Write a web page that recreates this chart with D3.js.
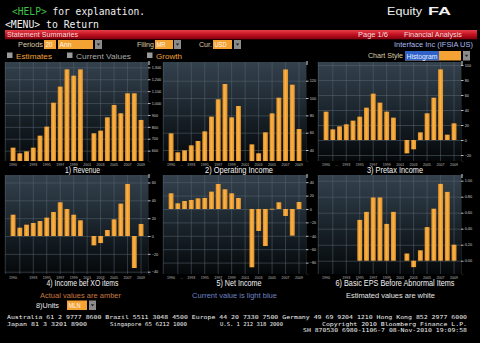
<!DOCTYPE html>
<html>
<head>
<meta charset="utf-8">
<script src="https://cdn.jsdelivr.net/npm/d3@7"></script>
<style>
  html, body { margin: 0; padding: 0; background: #000; overflow: hidden; }
  svg { display: block; }
  text { font-family: "Liberation Sans", Arial, sans-serif; }
  .mono { font-family: "DejaVu Sans Mono", "Liberation Mono", monospace; }
</style>
</head>
<body>
<svg id="chart" width="480" height="343"></svg>
<script>
// Fiscal years (20 annual periods)
const years = ["1990","1991","1992","1993","1994","1995","1996","1997","1998","1999",
               "2000","2001","2002","2003","2004","2005","2006","2007","2008","2009"];

// Series values (USD millions, EPS in USD); null = not reported
const revenue         = [625, 578, 594, 625, 726, 802, 1003, 1138, 1283, 1230, 1283, null, 746, 768, 880, 984, 914, 1082, 1082, 858];
const operatingIncome = [59.2, 37.3, 39.6, 45.4, 50.4, 61.5, 78.5, 98.5, 116.2, 77.7, 90.8, null, 46.5, 36.2, 60.4, 82.3, 100.4, 133, 115.4, 64.2];
const pretaxIncome    = [37.8, 14.2, 18.2, 20.9, 25.8, 31.1, 43.1, 61.8, 49.8, 37.8, 29.8, null, -17.8, -12.4, 10.2, 35.6, 56.4, 94.2, 7.1, 22.2];
const incomeBefXO     = [23.9, 9.3, 12.7, 14.6, 16.8, 20.6, 26.9, 37.8, 30.3, 23.9, 17.6, null, -10.5, -7.9, 6.7, 18.7, 36.3, 58.3, -35.9, 13.5];
const netIncome       = [23.4, 8.5, 11.9, 13.4, 15.9, 16.4, 25.9, 37.3, 29.4, 23.4, 16.4, null, -87, -32.8, -55.2, 0.3, 10, -10.4, -39.8, 10.4];
const basicEPS        = [null, null, null, null, null, 0.51, 0.61, 0.79, 0.79, 0.46, 0.61, null, 0.09, -0.08, 0.13, 0.42, 0.65, 0.96, 0.86, 0.20];

// Axis tick values
const revenueTicks = [600, 700, 800, 900, 1000, 1100, 1200, 1300];
const operatingTicks = [40, 60, 80, 100, 120];
const pretaxTicks = [-20, 0, 20, 40, 60, 80, 100];
const incomeXOTicks = [-40, -20, 0, 20, 40, 60];
const netTicks = [-80, -60, -40, -20, 0, 20, 40];
const epsTicks = [0, 0.2, 0.4, 0.6, 0.8, 1.0];

// Year labels under each panel and the years carrying vertical grid lines
const yearLabels = ["1990","1993","1995","1997","1999","2001","2003","2005","2007","2009"];
const gridYears = ["1991","1993","1995","1997","1999","2001","2003","2005","2007","2009"];

const titles = ["1) Revenue", "2) Operating Income", "3) Pretax Income",
                "4) Income bef XO items", "5) Net Income", "6) Basic EPS Before Abnormal Items"];

const svg = d3.select("#chart");
const defs = svg.append("defs");

// Panel backdrop: slate at top fading to black
const pg = defs.append("linearGradient").attr("id", "panelBg").attr("x1", 0).attr("y1", 0).attr("x2", 0).attr("y2", 1);
pg.append("stop").attr("offset", "0%").attr("stop-color", "#34424e");
pg.append("stop").attr("offset", "55%").attr("stop-color", "#182128");
pg.append("stop").attr("offset", "100%").attr("stop-color", "#05080a");

// Amber bar shading
const bg = defs.append("linearGradient").attr("id", "barFill").attr("x1", 0).attr("y1", 0).attr("x2", 1).attr("y2", 0);
bg.append("stop").attr("offset", "0%").attr("stop-color", "#d98a22");
bg.append("stop").attr("offset", "45%").attr("stop-color", "#fbb449");
bg.append("stop").attr("offset", "100%").attr("stop-color", "#e08f26");

// Red title strip
const rg = defs.append("linearGradient").attr("id", "redBar").attr("x1", 0).attr("y1", 0).attr("x2", 0).attr("y2", 1);
rg.append("stop").attr("offset", "0%").attr("stop-color", "#e8404a");
rg.append("stop").attr("offset", "50%").attr("stop-color", "#c01020");
rg.append("stop").attr("offset", "100%").attr("stop-color", "#80000c");

// Header
const help = svg.append("text").attr("class", "mono").attr("x", 12).attr("y", 14.5)
  .attr("font-size", 10.5).attr("textLength", 133).attr("lengthAdjust", "spacingAndGlyphs");
help.append("tspan").attr("fill", "#3fc24a").text("<HELP>");
help.append("tspan").attr("fill", "#f2f2f2").text(" for explanation.");
svg.append("text").attr("class", "mono").attr("x", 5).attr("y", 27.5).attr("font-size", 10.5)
  .attr("fill", "#f2f2f2").attr("textLength", 94).attr("lengthAdjust", "spacingAndGlyphs").text("<MENU> to Return");
svg.append("text").attr("x", 387).attr("y", 15).attr("font-size", 10.5).attr("fill", "#f0f0f0")
  .attr("textLength", 35).attr("lengthAdjust", "spacingAndGlyphs").text("Equity");
svg.append("text").attr("x", 428).attr("y", 15).attr("font-size", 11).attr("font-weight", "bold").attr("fill", "#f0f0f0")
  .attr("textLength", 23).attr("lengthAdjust", "spacingAndGlyphs").text("FA");

svg.append("rect").attr("x", 5).attr("y", 30).attr("width", 472).attr("height", 9.3).attr("fill", "url(#redBar)");
const smallText = (x, y, s, fill, len, size = 7, anchor = "start") => {
  const t = svg.append("text").attr("x", x).attr("y", y).attr("font-size", size).attr("fill", fill)
    .attr("text-anchor", anchor).text(s);
  if (len) t.attr("textLength", len).attr("lengthAdjust", "spacingAndGlyphs");
  return t;
};
smallText(7, 37.3, "Statement Summaries", "#f4dada", 71);
smallText(358, 37.3, "Page 1/6", "#f4dada", 30);
smallText(404, 37.3, "Financial Analysis", "#f4dada", 58);

// Control row
const tan = "#dccba4";
const box = (x, w, y, h, label, fill, txtFill, len) => {
  svg.append("rect").attr("x", x).attr("y", y).attr("width", w).attr("height", h).attr("fill", fill);
  if (label) smallText(x + 1.5, y + h - 1.8, label, txtFill, len, 7);
};
const dropdown = (x, y, h) => {
  svg.append("rect").attr("x", x).attr("y", y).attr("width", 7).attr("height", h).attr("fill", "#8c8c8c");
  svg.append("path").attr("d", `M${x + 1.8},${y + h / 2 - 1} h3.4 l-1.7,2.2 z`).attr("fill", "#222");
};
smallText(18, 46.8, "Periods", tan, 25);
box(44, 12, 40, 9, "20", "#f4a233", "#fff8ee", 7);
box(58, 35, 40, 9, "Ann", "#f4a233", "#fff8ee", 12);
dropdown(95, 40, 9);
smallText(137, 46.8, "Filing", tan, 17);
box(155, 18, 40, 9, "MR", "#f4a233", "#fff8ee", 9);
dropdown(174, 40, 9);
smallText(199, 46.8, "Cur.", tan, 13);
box(213, 19, 40, 9, "USD", "#f4a233", "#fff8ee", 12);
dropdown(234, 40, 9);
smallText(473, 47, "Interface Inc (IFSIA US)", "#a9b9ea", 79, 7, "end");

// Checkbox row
const check = (x, label, color, len, tx) => {
  svg.append("rect").attr("x", x).attr("y", 52.5).attr("width", 5.5).attr("height", 5.5).attr("fill", "#9a9a9a");
  smallText(tx, 58.8, label, color, len, 7.5);
};
check(7, "Estimates", "#eea23c", 36, 16);
check(67, "Current Values", "#a8a8a8", 55, 76);
check(147, "Growth", "#eea23c", 26, 156);
smallText(368, 58.3, "Chart Style", tan, 35);
svg.append("rect").attr("x", 405).attr("y", 51).attr("width", 56).attr("height", 9.5).attr("fill", "#f4a233");
svg.append("rect").attr("x", 405).attr("y", 51).attr("width", 34).attr("height", 9.5).attr("fill", "#2f62c8");
smallText(406.5, 58.6, "Histogram", "#e8eeff", 31, 7);
dropdown(463, 51, 9.5);

// Panels
const cols = [{ x0: 5, x1: 148, cx: 82.5 }, { x0: 163, x1: 306, cx: 239 }, { x0: 318, x1: 461, cx: 395 }];
const rows = [{ y0: 62, y1: 161 }, { y0: 175, y1: 274 }];

const panels = [
  { values: revenue, ticks: revenueTicks, domain: [513, 1345], fmt: d3.format(","), dots: true, titleLen: 35 },
  { values: operatingIncome, ticks: operatingTicks, domain: [27.3, 141.6], fmt: d3.format("d"), dots: true, titleLen: 68 },
  { values: pretaxIncome, ticks: pretaxTicks, domain: [-28, 104], fmt: d3.format("d"), dots: true, titleLen: 56 },
  { values: incomeBefXO, ticks: incomeXOTicks, domain: [-42.6, 68.4], fmt: d3.format("d"), dots: false, titleLen: 72 },
  { values: netIncome, ticks: netTicks, domain: [-97, 50.7], fmt: d3.format("d"), dots: true, titleLen: 45 },
  { values: basicEPS, ticks: epsTicks, domain: [-0.166, 1.071], fmt: d3.format(".2f"), dots: false, titleLen: 119 }
];

panels.forEach((p, i) => {
  const c = cols[i % 3], r = rows[Math.floor(i / 3)];
  const g = svg.append("g");
  const x = d3.scaleBand().domain(years).range([c.x0 + 4.6, c.x1 - 3.5]).paddingInner(0.27).paddingOuter(0.15);
  const y = d3.scaleLinear().domain(p.domain).range([r.y1, r.y0]);

  g.append("rect").attr("x", c.x0).attr("y", r.y0).attr("width", c.x1 - c.x0).attr("height", r.y1 - r.y0)
    .attr("fill", "url(#panelBg)");

  // horizontal grid
  g.append("g").attr("transform", `translate(${c.x0},0)`)
    .call(d3.axisRight(y).tickValues(p.ticks).tickSize(c.x1 - c.x0).tickFormat(""))
    .call(a => a.select(".domain").remove())
    .call(a => a.selectAll("line").attr("stroke", "#5a6772").attr("stroke-width", 0.5));
  // vertical grid
  g.append("g").attr("transform", `translate(0,${r.y1})`)
    .call(d3.axisBottom(x).tickValues(gridYears).tickSize(-(r.y1 - r.y0)).tickFormat(""))
    .call(a => a.select(".domain").remove())
    .call(a => a.selectAll("line").attr("stroke", "#5a6772").attr("stroke-width", 0.5));
  g.append("line").attr("x1", c.x0 + 0.25).attr("x2", c.x0 + 0.25).attr("y1", r.y0).attr("y2", r.y1)
    .attr("stroke", "#5a6772").attr("stroke-width", 0.5);

  // bars (from zero, or from the axis floor when every value is positive)
  const base = Math.max(p.domain[0], 0);
  g.append("g").selectAll("rect")
    .data(years.map((yr, k) => ({ yr, v: p.values[k] })).filter(d => d.v !== null))
    .join("rect")
    .attr("x", d => x(d.yr))
    .attr("width", x.bandwidth())
    .attr("y", d => y(Math.max(d.v, base)))
    .attr("height", d => Math.max(0.8, Math.abs(y(d.v) - y(base))))
    .attr("fill", "url(#barFill)");

  // value axis on the right
  g.append("g").attr("transform", `translate(${c.x1},0)`)
    .call(d3.axisRight(y).tickValues(p.ticks).tickFormat(p.fmt).tickSize(2.5).tickPadding(1.2))
    .call(a => a.select(".domain").attr("stroke", "#1a1a1a"))
    .call(a => a.selectAll("line").attr("stroke", "#e8e8e8").attr("stroke-width", 0.8))
    .call(a => a.selectAll("text").attr("fill", "#cfcfcf").attr("font-size", 3.8)
      .attr("font-family", "Liberation Sans, Arial, sans-serif"));
  g.append("line").attr("x1", c.x1 + 1).attr("x2", c.x1 + 1).attr("y1", r.y0 - 1).attr("y2", r.y0 + 3)
    .attr("stroke", "#f0f0f0").attr("stroke-width", 0.9);

  // year labels
  g.append("g").attr("transform", `translate(0,${r.y1})`)
    .call(d3.axisBottom(x).tickValues(yearLabels).tickSize(0).tickPadding(2.2))
    .call(a => a.select(".domain").remove())
    .call(a => a.selectAll("text").attr("fill", "#bdbdbd").attr("font-size", 3.6)
      .attr("font-family", "Liberation Sans, Arial, sans-serif"));
  if (p.dots) {
    g.append("text").attr("x", x("1991") + x.step() * 0.95).attr("y", r.y1 + 5.2)
      .attr("font-size", 3.6).attr("fill", "#bdbdbd").attr("text-anchor", "middle").text("...");
  }

  // panel title
  svg.append("text").attr("x", c.cx).attr("y", r.y1 + 11.8).attr("text-anchor", "middle")
    .attr("font-size", 8.2).attr("fill", "#f4f4f4")
    .attr("textLength", p.titleLen).attr("lengthAdjust", "spacingAndGlyphs").text(titles[i]);
});

// Legend notes
smallText(80.5, 297.5, "Actual values are amber", "#c9793f", 81, 7.5, "middle");
smallText(234.5, 297.5, "Current value is light blue", "#6d82c2", 85, 7.5, "middle");
smallText(390.5, 297.5, "Estimated values are white", "#e4e4e4", 89, 7.5, "middle");

// Units selector
smallText(36, 307.6, "8)Units", "#e8e8e8", 23, 7.5);
box(67, 20, 300.5, 9.5, "MLN", "#f4a233", "#fff8ee", 12);
dropdown(89, 300.5, 9.5);

// Footer
const foot = (x, y, s, len) => svg.append("text").attr("class", "mono").attr("x", x).attr("y", y)
  .attr("font-size", 5.4).attr("fill", "#f0f0f0").attr("textLength", len).attr("lengthAdjust", "spacingAndGlyphs").text(s);
foot(7, 319.4, "Australia 61 2 9777 8600 Brazil 5511 3048 4500 Europe 44 20 7330 7500 Germany 49 69 9204 1210 Hong Kong 852 2977 6000", 460);
foot(7, 325.8, "Japan 81 3 3201 8900", 80);
foot(110, 325.8, "Singapore 65 6212 1000", 77);
foot(220, 325.8, "U.S. 1 212 318 2000", 63);
foot(322, 325.8, "Copyright 2010 Bloomberg Finance L.P.", 145);
foot(303, 332.2, "SH 870530 6980-1106-7 08-Nov-2010 19:09:58", 164);
</script>
</body>
</html>
